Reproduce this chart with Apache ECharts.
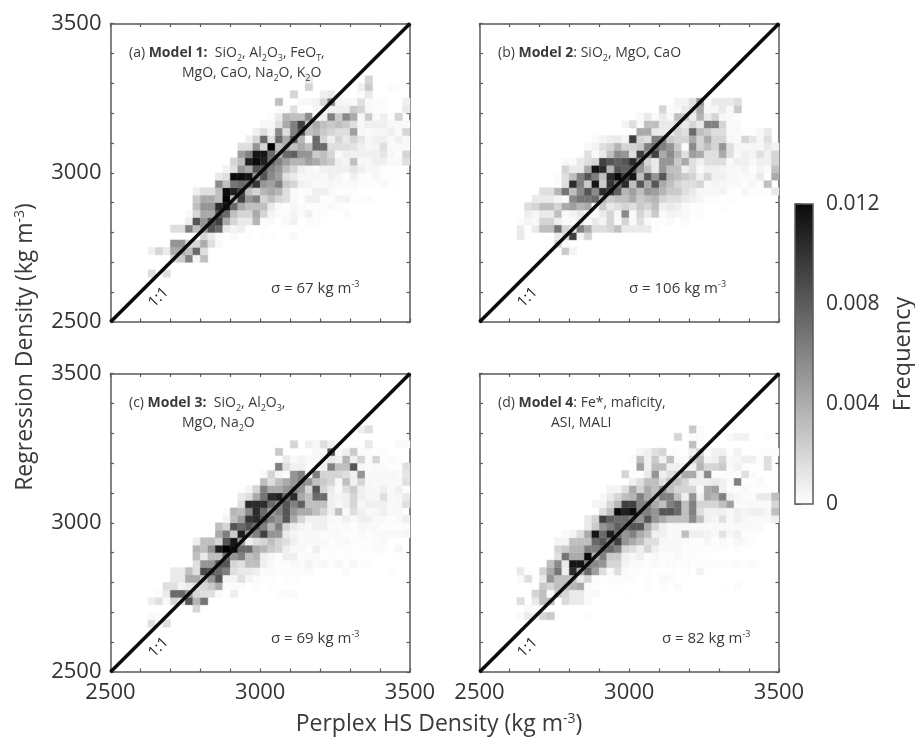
<!DOCTYPE html>
<html>
<head>
<meta charset="utf-8">
<style>
  html, body { margin: 0; padding: 0; background: #fff; }
  #main { width: 915px; height: 738px; }
  #main canvas { filter: blur(0.45px); }
</style>
<script src="https://cdn.jsdelivr.net/npm/echarts@6/dist/echarts.min.js"></script>
</head>
<body>
<div id="main"></div>
<script>
// each row: [row, first column, values...] in units of 0.001, bins are 25 kg/m3 wide from 2500
var freqA = [
  [6,5,1.5,0,1.5],
  [8,8,2,2.5,6,0.5,3],
  [9,5,0.7,2,1,4,4,3,7,1.5],
  [10,8,5,5,2,2,4,1.5,0.3],
  [11,11,0.3,2,1,0.2,0,0.3,0,0.1,0,0.1,0.1,0,0,0.3],
  [12,8,1.5,1.5,6,3,5,8,7,1,0.5,0.8,0.1,0,0.1],
  [13,10,0.8,8,5,8,9,4,2,1,1,3.5,0.2,0.3,0,0.3,0.6,0,0.2,0.2],
  [14,10,0.3,2,4,4,8,7,3,2,2,4,2,0.5,0.2,0.2,0.5,0.2,0.7,0.1,0.1,0,0,0.2],
  [15,11,3,5,5,10,11,7,4,3,3,3,1,0.3,0.1,0.4,0.2,0.1,0.1,0.1,0.3,0.2],
  [16,11,2.5,4,4,3,12,3,9,5,6,2,3,2,1.5,0.3,0.1,0.7,0.7,0.1,0.1,0.5,0.5,0.1,0.1,0.2],
  [17,11,0.7,1.5,1.5,3,11.5,10.5,9,3,2,3.5,4,3.5,1.5,0.3,0.1,0.2,0.7,0.7,0.3,0.1,0.1,0.1],
  [18,14,5.5,3,6.5,7,7,9.5,5,4.5,6,2.5,2,0.7,0.5,0.3,0.3,0.4,0.3,0.2,0.3,0.1,0.2,0.1,0.3,0.1],
  [19,14,1,1.5,11.5,11.5,11,5,8,5.5,4.5,1.5,1,0.4,0.4,0.4,0.3,0.7,0.4,0.1,0.7,0.2,0.1,0.4,0.1,0.1,0.1],
  [20,15,0.5,1.5,5,4,8,8,6,5,3,2,0.7,0.4,0.2,0.7,0.7,0.7,0.7,1.2,0.7,0.4,0.4,0.1,0.1],
  [21,16,2,3,10.5,11.5,10.5,7,6,4.5,3.5,3.5,4.5,4,3,2.5,0.7,0.5,3,0.4,0.4,0.7,0.7,0.3,0.3,1.5],
  [22,17,4.5,6,11,11,7,4,7,7.5,5,5,2.5,3,2,0.3,0.7,0.7,0.7,0.7,0.7,1.2,0.4,0.1,2],
  [23,17,1.5,1.5,5,2,12,3,4,3,4,3,7,7,1.5,1.5,1.5,1.3,0.7,0.4,0.5,1.5,0.3,0.3,0.3],
  [24,18,0.7,2,7,1.5,7,4,8,3.5,0.4,7,2,0.7,2,1,2,1.2,0.4,0.7,0.7,0.3,0.7,0.3],
  [25,19,0.7,1.5,0.5,5.5,1.5,6,8,3,3.5,2.5,2,1.5,1.5,4.5,0.4,0.3,0.4,0.4,0.7,0.3,2],
  [26,20,0.4,0.4,1.5,4,6,9,3,4,3,2.5,3,2.5,1.5,0.4,0.7,0.7,0.7,0.4,0.3,0.3],
  [27,21,0.2,1,3.5,3,3,5.5,0.4,0.7,6,2.5,5.5,4,0.4,2.5,0.3,0.7,0.1,2],
  [28,22,0.2,0.2,1.5,0.1,0,0.4,0.4,0.7,0.7,0.7,2.5,2,0.4,0.2,0.1,0,0,1],
  [29,22,3,0,0,0.3,0.4,0.5,2,6,0.5,0.4,0.3,1.5,0.3,0.1,0.2,0,0,0.7],
  [30,24,2,0,0,0,0.7,1,0.3,0,0,0.2,1],
  [31,26,2,0,0,0,0,0,0,0.7,2.5,0,0,0.2,0.1],
  [32,26,1,0,0,0,0,0,0,0,2]
];
var freqB = [
  [9,11,2.5,0.5],
  [10,10,2,0.3],
  [11,5,1,0.1,0,0,0,1,1.5,9,0.5,2],
  [12,5,1,0.1,1,3,3,6.5,2,1.5,6,4,1.5,1.5,2,3,1,1,1,1,0.1],
  [13,5,0.2,0.5,0.3,2,2,0.8,0.2,0.3,1,0.3,1,0.5,2,0.3,2,0.3,1.5,0.3,0.1,0.1,0.3,0,0.2],
  [14,6,0.8,0.4,1,1,3,0.3,0.5,1,0.3,0.2,1,2,0.4,5.5,0.3,2,1,2.5,0.3,0.5,0.5,0.3,0.1,0.1],
  [15,6,1.5,2,3,3,2,4,4.5,3.5,4,0.3,2.5,1,1.5,2,1.5,2.5,2,3,0.7,1,0.7,0.3,0.1,0.1,0,0,0.1],
  [16,7,1,1,1,0.5,0.2,5.5,6.5,6.5,7,3.5,2.5,3,3,4,2.5,3,3.5,2,1.5,1.5,1,0.7,0.4,0.1,0.2,0,0.1],
  [17,8,1.5,1.5,3.5,6.5,3,5.5,8,5.5,10,9.5,7.5,3.5,4.5,3,5,4.5,3.5,2.5,2.5,1.5,1,0.4,0.4,0.4,0.5,0.1,0,0.4,0.1,0.1,0.1,1],
  [18,10,0.1,1.5,10,6,2.5,11,2.5,9.5,7,10,3,8,4,8,4,3,2,1.5,1.5,2,0.3,0.5,0.4,0.3,0.3,0.1,0.4,0.2,3],
  [19,10,0.2,1.5,3,6,8,6,3,10,11.5,9,11,3,8,5,8,3.5,3,2.5,2,0.7,2,0.7,0.7,0.3,0.3,0.3,0.3,1,0.1,4],
  [20,11,2,1,1,4,11,10,3.5,8,7.5,8,5,3,1,5,3,3,0.7,1.5,0.3,0.7,0.7,0.5,0.4,0.3,0.5,0.1,0.5,0.3,3],
  [21,11,0.3,0.2,1,1.5,2,9,8,7.5,8,10,6,2,1,5,5,2.5,4,1.5,0.7,1.5,1.5,1.5,0.3,0.7,0.7,0.3,0.7,0.7,2],
  [22,14,1.5,0.3,1,3,5.5,5,1.5,9,5,9,4,5.5,3.5,1.5,4.5,4,1.5,1.5,4,1.5,0.3,0.7,0.5,1.5,0.7,2],
  [23,14,0.3,0.5,1.5,2,3.5,2,2,2.5,6,7,6,5,2.5,0.2,5.5,2,3,2,5,1.5,0.4,0.4,0.4,0.4,1,0.6],
  [24,15,0.3,0.5,0.8,1,0.5,9,2,1.5,6,6,2.5,2,2,4,2,4,2,2,0.4,0.3,2,1.2,0.4,1.5],
  [25,21,4,4,1,1,1,2,1.5,7,3,2.5,1.5,1.5,0.3,0.3,0.1,0.1,0.4,1],
  [26,19,0.5,1.5,0.3,3,3,1,1,1.5,1,2,1,6,6,2,0.2,0.3],
  [27,21,0.3,1,0.3,1,0.4,3,2.5,1,3.5,1,2,0.4,0.3,0.1],
  [28,24,2,0.2,0.3,1,1.5,4,0.4,0.4,1,0.3,2.5],
  [29,26,0.5,0.5,1.5,5,0.3,1,1,1,1.5]
];
var freqC = [
  [6,5,1.5,0.2,1.5],
  [7,5,0.3,0.2],
  [8,11,2,0.1],
  [9,5,0.8,1.5,0.3,2,1.5,8,3.5,6.5],
  [10,6,0.2,1,7,7,5,2,1.5,1.5,0.3,0,0.8,0,0,0,0,0,0.1,0.2,0.2],
  [11,7,1.5,1.5,0.5,1,1.5,2,2.5,4,0.2,0.2,0.2,0,0.1,0,0.1],
  [12,8,1,1,4,4,3,5,8,0.5,0.5,1.5,0.5,0.2,0.1,0.1,0,0.1,0.1],
  [13,8,1,1,3,1.5,8.5,8,7,6,1.5,1,1,0.7,0.2,0.2,0.1,0.1,0.2,0.1,0.3,0,0,0,0,0.2,0,0,0,0,0,0.1],
  [14,11,1.5,5,5,8,8,2,1.5,3,3,0.7,0.3,0.1,0.1,0.3,0.2,0.5,0.2,0.4,0.1,0.4,0.1,0.4,0.1,0.1],
  [15,11,3,1,3,3,7,5,6,3,3.5,0.7,0.4,0.1,0.7,0.7,0.2,0.2,0.3,0.1,0.1,0.1,0.1,0.1,0.1],
  [16,11,3.5,3,5,10.5,12,11.5,7,7,4,3.5,2.5,2,0.7,0.3,0.3,0.1,0.7,0.1,0.1,0.1,0.1,0.1,0.1,0.1,0.2,0.2,0,0.4],
  [17,11,0.8,3,3,2,8,11,4.5,0.7,1.5,2,3,2,1.5,0.7,0.3,0.3,0.3,0.3,0.1,0.3,0.3,0.1,0.1,0.1,0.2,0.3],
  [18,14,4,6,2.5,10.5,5,6,9,5,5,1,0.5,0.3,0.3,0.3,0.1,0.3,0.3,0.1,0.1,0.3,0.1,0.3,0.3,0.3,0.3,0.4],
  [19,14,3,2,8,7,8,7,6,3.5,6,2,1,0.5,0.3,0.7,0.7,0.2,0.2,0.3,0.1,0.4,0.3,0.3,0.1,0.1,0.1,0.2],
  [20,15,0.5,3,4.5,9.5,10,8,6,5,8,4,2,0.7,0.7,0.7,0.3,0.3,0.7,0.3,0.7,0.7,0.3,0.3,0.1,0.3,0.7],
  [21,15,0.2,3.5,3,5.5,10,7,5,6,8,5,4,4,3,2,0.7,3,0.3,1.5,0.7,0.3,0.4,0.7,0.3,0.3],
  [22,17,1.5,10,10,10,7,6,8,6,7.5,3,3,3,0.7,0.4,0.7,2,0.4,0.7,0.7,0.7,0.3,0.4,1.5],
  [23,17,1,1.5,4,6.5,10,10.5,7,10,4,3,7,7,0.7,0.5,0.7,2,0.7,0.4,0.4,1.5,0.3,0.4,1],
  [24,18,0.5,2,6,4,4,5,6,5,2,8,2,1,0.3,1.5,2.5,0.7,0.4,0.4,0.7,0.3,0.7,0.1],
  [25,20,3,1.5,3,4,5,6,5,3,2.5,2,0.4,3,0.7,2,0.4,0.3,0.4,0.3,0.3,1.5],
  [26,20,0.3,2,0.5,0.2,5,6,0.7,6,2,2,2,1.5,0.7,5,0.3,0.3,0.3,0.4,0.3,1.2],
  [27,22,6,1.5,0.7,0.7,0.3,0.2,0.7,6,3,3,8,0.4,0.2,0.3,0.3,0.1,0.1,1.5],
  [28,23,1,0.3,0.5,0.3,0.4,0.5,1,0.7,3.5,0.7,2,0.2,2,0.1,0.2,0.1,0,0.7],
  [29,22,2.5,0,0,0,0,0.3,0.3,8,0.3,0.7,2.5,0.2,0.2,0.1,0.2],
  [30,24,2,0,0.7,0.4,1.5,0.7,0.2,0,0,0,1,0,0,0,0.3,0.3],
  [32,33,0.7,1.5]
];
var freqD = [
  [7,5,0.2,1,0.5,2,2.5,0,0,0,0,0.2],
  [8,6,0.3,0.2],
  [9,5,1.5,0,1,3,3,0,1.7,1,1,0.3],
  [10,7,2,3,0.3,2.5,2,1,1,0.3,0.3,0,0,0,0.1],
  [11,8,2.5,2,3,3,3.5,4,0.2,0.1,0,0.1,0.1,0,0,0,0.2,0,0.1,0,0.2,0,0,0,0,0,0.1,0,0.2],
  [12,5,0.3,1.5,0,1,5,3,3,3,1,2,0.2,0.1,0.1,0.2,0.2,0.1,0,0.2,0,0.3,0.2,0,0.1],
  [13,5,1,0.1,0,2,4,6.5,0.8,10,4,7,4.5,1.5,0.3,1.5,0.2,0.1,0.1,0.1,0,0,0.1,0,0.1,0,0.6,0.1],
  [14,9,3,5.5,1,11,11,6,5.5,5,2,2,0.5,0.3,0.2,0.1,0.3,0.1,0.2,0.1,0.2,0.1,0.1,0.1,0.2,0.2,0.1,0.2,0.1,0.2],
  [15,10,1.5,6.5,4,4,11.5,3.5,6,2.5,2.5,0.7,0.4,0.7,0.2,0.3,0.1,0.1,0.3,0.1,0.1,0,0.1],
  [16,10,2,2.5,3.5,3.5,6,6,7,7,6,2,1.5,0.7,2,0.7,0.3,0.3,0.4,0.1,0.1,0.1,0.1,0.1,0.1,0,0.1],
  [17,10,0.5,0.5,3,3,3,7,8,6,9,5,4,3,1.5,1.5,0.4,0.3,0.3,0.3,0.1,0.1,0.4,0.1,0.3,0.1,0.4,0.3,0.1],
  [18,11,0.3,0.5,1.5,4,11,7,10.5,7,5,6,4,3,0.7,0.7,0.3,0.3,3,0.7,0.7,0.5,0.3,1.3,0.4,0.7,0.1,0.1,0.1],
  [19,14,1,2.5,5,6,7.5,7,8,8,4,2,0.7,0.3,0.4,0.3,0.3,0.3,0.3,0.3,0.3,0.3,0.3,0.3,0.3,0.3],
  [20,14,1,2,9,7.5,7,7,6,5,8,5,4,3,3,3,5.5,3,0.7,0.4,1.5,0.3,0.7,0.4,0.3,0.3,0.3,0.7],
  [21,16,1.5,3,11.5,10.5,11.5,6,6,5,8,8,7,3,6,1.5,0.7,0.7,0.7,0.3,0.7,0.5,0.7,0.7,0.4,3],
  [22,15,0.5,0.5,2,3.5,9,9,6,6,4,3,6,7,3,6,2,2,2,3,4.5,0.3,0.3,0.4,0.3,0.3,2],
  [23,16,0.3,1,2,3,3.5,6,4,3,6,6,3,0.7,5,0.7,4,3.5,6,0.7,0.4,0.2,0.2,1,1,3],
  [24,17,0.5,0.5,1.5,4,2,4,3,5,3,2,2,2,0.3,4,4.5,0.7,0.2,0.2,0.3,0.1,0.1,0.1],
  [25,20,0.7,1.5,3,3,1.5,3,3,2,0.7,0.7,0.7,1,0.7,0.3,6,0.1,0.1,0.3],
  [26,19,2,0.1,0.1,1,5,0.7,1.5,2,4,4,0.7,5.5,0.1,0.1,0.2,0.1,1.5,0.2],
  [27,21,4.5,0.7,3,3,0.7,0.7,0.7,0.7,3.5,2,2,2.5,0.3,0.6,0.2,0.1,0.1,1.5],
  [28,20,0.2,3,0.7,2.5,0.7,3,0.3,0.3,2,3,0.5,0.7,2,0.3,0.4,0.7,0.7,0.1,1.5],
  [29,21,0.4,0.7,1.5,2,0.1,0.1,0.1,0.7,2,0.1,0.7,0.7,0.1,0.5,0,0.1,0.1,0.1,0.2],
  [30,28,3,0.1],
  [31,26,2,0,0.2,0.2,0,0,0,0.3,0.6,0.6,0,0,0.1],
  [32,28,2.5,0.2]
];

var oneToOne = [[2500, 2500], [3500, 3500]];
var xTicks = [2500, 3000, 3500];
var colorbarRange = [0, 0.012];

var panels = [
  {
    data: freqA, left: 110.5, top: 23.5,
    line1: '(a) {b|Model 1:}  SiO{s|2}, Al{s|2}O{s|3}, FeO{s|T},',
    line2: 'MgO, CaO, Na{s|2}O, K{s|2}O', line2x: 182,
    sigma: '\u03c3 = 67 kg m{u|-3}', sigmaX: 271
  },
  {
    data: freqB, left: 479.5, top: 23.5,
    line1: '(b) {b|Model 2}: SiO{s|2}, MgO, CaO',
    line2: '', line2x: 0,
    sigma: '\u03c3 = 106 kg m{u|-3}', sigmaX: 629
  },
  {
    data: freqC, left: 110.5, top: 373.5,
    line1: '(c) {b|Model 3:}  SiO{s|2}, Al{s|2}O{s|3},',
    line2: 'MgO, Na{s|2}O', line2x: 182,
    sigma: '\u03c3 = 69 kg m{u|-3}', sigmaX: 271
  },
  {
    data: freqD, left: 479.5, top: 373.5,
    line1: '(d) {b|Model 4}: Fe*, maficity,',
    line2: 'ASI, MALI', line2x: 551,
    sigma: '\u03c3 = 82 kg m{u|-3}', sigmaX: 662
  }
];

var fontName = '"Open Sans"';
var textColor = '#3a3a3a';
var axisColor = '#5a5a5a';
var plotW = 299.5;
var plotH = 298.5;
var binSize = 25;
var binCount = 40;

function toCells(rows) {
  var cells = [];
  rows.forEach(function (r) {
    for (var i = 2; i < r.length; i++) {
      var col = r[1] + i - 2;
      if (r[i] > 0 && col < binCount) {
        cells.push([2500 + col * binSize, 2500 + r[0] * binSize, r[i] * 0.001]);
      }
    }
  });
  return cells;
}

function renderCell(params, api) {
  var p0 = api.coord([api.value(0), api.value(1)]);
  var p1 = api.coord([api.value(0) + binSize, api.value(1) + binSize]);
  return {
    type: 'rect',
    shape: { x: p0[0], y: p1[1], width: p1[0] - p0[0], height: p0[1] - p1[1] },
    style: { fill: api.visual('color'), stroke: api.visual('color'), lineWidth: 0.4 }
  };
}

function renderColorbar(params, api) {
  var p0 = api.coord([0, api.value(0)]);
  var p1 = api.coord([1, api.value(1)]);
  return {
    type: 'rect',
    shape: { x: p0[0], y: p1[1], width: p1[0] - p0[0], height: p0[1] - p1[1] },
    style: {
      fill: new echarts.graphic.LinearGradient(0, 0, 0, 1, [
        { offset: 0, color: '#0a0a0a' },
        { offset: 1, color: '#ffffff' }
      ]),
      stroke: axisColor,
      lineWidth: 1.5
    }
  };
}

function makeAxis(kind, grid, position, withLabels) {
  return {
    type: 'value',
    gridIndex: grid,
    position: position,
    min: 2500,
    max: 3500,
    interval: 100,
    splitLine: { show: false },
    axisLine: { show: true, onZero: false, lineStyle: { color: axisColor, width: 1.5 } },
    axisTick: { show: true, inside: true, length: 3.5, lineStyle: { color: axisColor, width: 1.2 } },
    axisLabel: {
      show: withLabels,
      color: '#333',
      fontFamily: fontName,
      fontSize: 22,
      margin: kind === 'x' ? 10 : 9,
      formatter: function (v) { return xTicks.indexOf(v) >= 0 ? String(v) : ''; }
    }
  };
}

var grids = [], xAxes = [], yAxes = [], series = [], texts = [];
var richStyles = {
  b: { fontFamily: fontName, fontSize: 14, fontWeight: 'bold', fill: textColor, lineHeight: 18, verticalAlign: 'middle' },
  s: { fontFamily: fontName, fontSize: 9, fill: textColor, lineHeight: 18, verticalAlign: 'bottom' },
  u: { fontFamily: fontName, fontSize: 9, fill: textColor, lineHeight: 18, verticalAlign: 'top' },
  t: { fontFamily: fontName, fontSize: 14, fill: textColor, lineHeight: 24, verticalAlign: 'top' }
};

function addText(str, x, y, opts) {
  texts.push({
    type: 'text',
    x: x,
    y: y,
    rotation: (opts && opts.rotation) || 0,
    z: 10,
    style: {
      text: str,
      fontFamily: fontName,
      fontSize: (opts && opts.size) || 14,
      fill: (opts && opts.fill) || textColor,
      align: (opts && opts.align) || 'left',
      verticalAlign: 'middle',
      lineHeight: (opts && opts.size > 20) ? 24 : 18,
      rich: richStyles
    }
  });
}

panels.forEach(function (p, i) {
  grids.push({ left: p.left, top: p.top, width: plotW, height: plotH });
  var leftCol = i % 2 === 0;
  var bottomRow = i >= 2;
  xAxes.push(makeAxis('x', i, 'bottom', bottomRow));
  xAxes.push(makeAxis('x', i, 'top', false));
  yAxes.push(makeAxis('y', i, 'left', leftCol));
  yAxes.push(makeAxis('y', i, 'right', false));
  series.push({
    type: 'custom',
    coordinateSystem: 'cartesian2d',
    xAxisIndex: i * 2,
    yAxisIndex: i * 2,
    data: toCells(p.data),
    encode: { x: 0, y: 1 },
    renderItem: renderCell,
    silent: true,
    animation: false,
    z: 2
  });
  series.push({
    type: 'line',
    xAxisIndex: i * 2,
    yAxisIndex: i * 2,
    data: oneToOne,
    symbol: 'none',
    lineStyle: { color: '#0a0a0a', width: 3.5 },
    silent: true,
    animation: false,
    z: 3
  });
  addText(p.line1, p.left + 18.5, p.top + 30);
  if (p.line2) addText(p.line2, p.line2x, p.top + 50);
  addText(p.sigma, p.sigmaX, p.top + 265, { size: 15 });
  addText('1:1', p.left + 48, p.top + 274, { size: 15, rotation: Math.PI / 4, align: 'center', fill: '#222' });
});

// colour bar gets its own little grid
grids.push({ left: 795, top: 204, width: 18, height: 300 });
xAxes.push({ type: 'value', gridIndex: 4, min: 0, max: 1, show: false });
yAxes.push({
  type: 'value',
  gridIndex: 4,
  position: 'right',
  min: colorbarRange[0],
  max: colorbarRange[1],
  interval: 0.004,
  splitLine: { show: false },
  axisLine: { show: false },
  axisTick: { show: true, length: 6, lineStyle: { color: axisColor, width: 1.5 } },
  axisLabel: {
    color: '#333',
    fontFamily: fontName,
    fontSize: 21,
    margin: 13,
    formatter: function (v) { return v === 0 ? '0' : v.toFixed(3); }
  }
});
series.push({
  type: 'custom',
  coordinateSystem: 'cartesian2d',
  xAxisIndex: 8,
  yAxisIndex: 8,
  data: [colorbarRange],
  encode: { y: [0, 1] },
  renderItem: renderColorbar,
  silent: true,
  animation: false
});

addText('Regression Density (kg m{t|-3})', 25, 347, { size: 23, rotation: Math.PI / 2, align: 'center' });
addText('Perplex HS Density (kg m{t|-3})', 439, 724, { size: 23, align: 'center' });
addText('Frequency', 903, 354, { size: 23.5, rotation: Math.PI / 2, align: 'center' });

var chart = echarts.init(document.getElementById('main'), null, { renderer: 'canvas' });
chart.setOption({
  animation: false,
  backgroundColor: '#fff',
  grid: grids,
  xAxis: xAxes,
  yAxis: yAxes,
  visualMap: {
    show: false,
    type: 'continuous',
    seriesIndex: [0, 2, 4, 6],
    dimension: 2,
    min: 0,
    max: 0.012,
    inRange: { color: ['#ffffff', '#000000'] }
  },
  series: series,
  graphic: { elements: texts }
});
</script>
</body>
</html>
